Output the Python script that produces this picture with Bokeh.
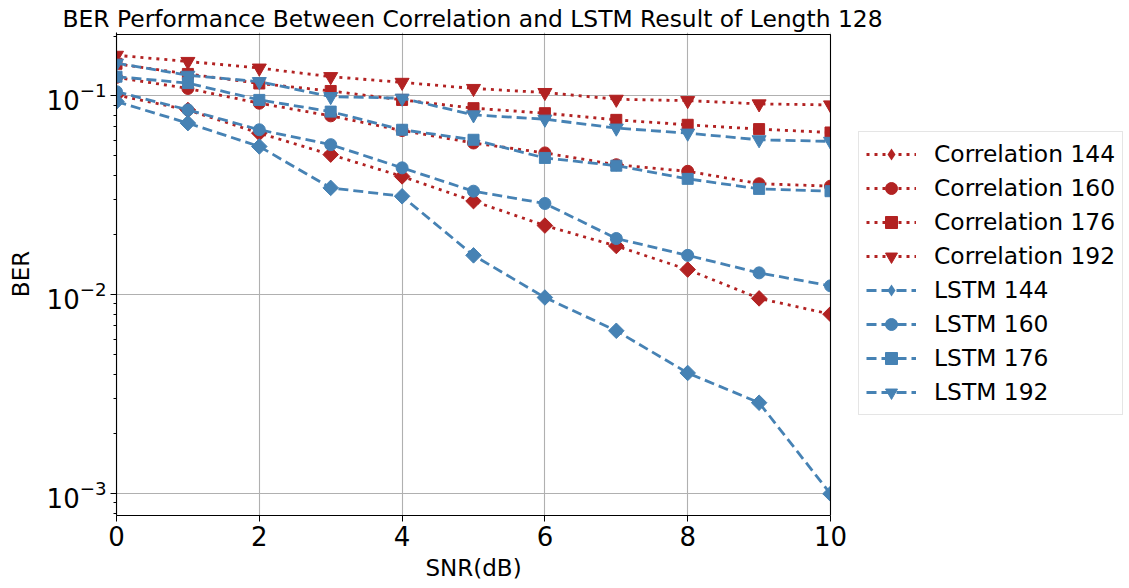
import numpy as np
from bokeh.plotting import figure
from bokeh.models import Range1d, FixedTicker, Legend, LegendItem, BoxAnnotation, Title
from bokeh.embed import file_html
from bokeh.resources import INLINE

snr = [0, 1, 2, 3, 4, 5, 6, 7, 8, 9, 10]
corr_144 = [0.101, 0.085, 0.065, 0.0507, 0.0394, 0.0296, 0.0223, 0.0176, 0.0134, 0.0096, 0.0080]
corr_160 = [0.124, 0.109, 0.0919, 0.0794, 0.0670, 0.0580, 0.0517, 0.0451, 0.0418, 0.0362, 0.0352]
corr_176 = [0.145, 0.129, 0.1155, 0.1059, 0.0955, 0.0868, 0.0819, 0.0758, 0.0716, 0.0681, 0.0655]
corr_192 = [0.160, 0.149, 0.138, 0.125, 0.117, 0.109, 0.104, 0.0962, 0.0947, 0.0912, 0.0901]
lstm_144 = [0.0937, 0.073, 0.0557, 0.0345, 0.0313, 0.0158, 0.0097, 0.0066, 0.00405, 0.00287, 0.00100]
lstm_160 = [0.105, 0.0851, 0.0676, 0.0569, 0.0435, 0.0332, 0.0288, 0.0192, 0.0158, 0.0129, 0.0111]
lstm_176 = [0.125, 0.116, 0.0955, 0.0834, 0.0676, 0.0602, 0.0488, 0.0446, 0.0383, 0.0341, 0.0332]
lstm_192 = [0.146, 0.127, 0.118, 0.0992, 0.0974, 0.0803, 0.0764, 0.0689, 0.0650, 0.0602, 0.0591]

labels = ["Correlation 144", "Correlation 160", "Correlation 176", "Correlation 192",
          "LSTM 144", "LSTM 160", "LSTM 176", "LSTM 192"]
series = [corr_144, corr_160, corr_176, corr_192, lstm_144, lstm_160, lstm_176, lstm_192]
x_ticks = [0, 2, 4, 6, 8, 10]

RED = "#b22222"
BLUE = "#4682b4"
FONT = "DejaVu Sans"

X0, X1 = 0, 10
Y0, Y1 = 7.78e-4, 0.2036
AX_W = 714             # pixel width of the axes box
AX_H = 481             # pixel height of the axes box
FRAME_W = 1129 - 116   # frame extends under the legend area
EXTRA_TOP = 2          # px of frame above the axes box so the top spine shows
x_end = X0 + (X1 - X0) * FRAME_W / AX_W
L = np.log10(Y1) - np.log10(Y0)
y_end = 10 ** (np.log10(Y1) + EXTRA_TOP * L / AX_H)

p = figure(width=1129, height=588, y_axis_type="log",
           x_range=Range1d(X0, x_end), y_range=Range1d(Y0, y_end),
           output_backend="svg", toolbar_location=None,
           min_border_left=116, min_border_right=0, min_border_top=34 - EXTRA_TOP,
           min_border_bottom=73)

p.title.text = "BER Performance Between Correlation and LSTM Result of Length 128"
p.title.align = "left"
p.title.offset = -54
p.title.text_font = FONT
p.title.text_font_size = "23.4px"
p.title.text_font_style = "normal"
p.title.text_color = "black"
p.title.standoff = 0

p.background_fill_color = "white"
p.border_fill_color = "white"
p.outline_line_color = None

p.xaxis.ticker = FixedTicker(ticks=x_ticks)
p.xgrid.ticker = FixedTicker(ticks=x_ticks)
p.xaxis.bounds = (X0, X1)
for ax in [p.xaxis[0], p.yaxis[0]]:
    ax.major_label_text_font = FONT
    ax.major_label_text_font_size = "26px"
    ax.major_label_text_color = "black"
    ax.axis_label_text_font = FONT
    ax.axis_label_text_font_size = "23px"
    ax.axis_label_text_font_style = "normal"
    ax.axis_label_text_color = "black"
    ax.axis_line_color = "black"
    ax.axis_line_width = 1.1
    ax.major_tick_line_color = "black"
    ax.minor_tick_line_color = "black"
    ax.major_tick_out = 6
    ax.major_tick_in = 0
    ax.minor_tick_out = 3
    ax.minor_tick_in = 0
p.xaxis.minor_tick_line_color = None
p.yaxis.axis_label = "BER"
p.yaxis.axis_label_standoff = 10
p.xaxis.major_label_standoff = 4
p.yaxis.major_label_standoff = 4

xlabel = Title(text="SNR(dB)", align="left", offset=309, text_font=FONT,
               text_font_size="23px", text_font_style="normal", text_color="black",
               standoff=8)
p.add_layout(xlabel, "below")

for g in [p.xgrid[0], p.ygrid[0]]:
    g.grid_line_color = "#b0b0b0"
    g.grid_line_width = 1.1

# clip everything right of the axes box (grid lines, half markers)
p.add_layout(BoxAnnotation(left=X1, fill_color="white", fill_alpha=1,
                           line_color=None, level="annotation"))
# axes box (top and right spines)
p.add_layout(BoxAnnotation(left=X0, right=X1, bottom=Y0, top=Y1,
                           fill_color=None, fill_alpha=0,
                           line_color="black", line_alpha=1, line_width=1.1,
                           level="annotation"))

markers = [("square", 45), ("circle", 0), ("square", 0), ("inverted_triangle", 0)]
sizes = [11, 12, 11, 14]

items = []
for i, (lab, vals) in enumerate(zip(labels, series)):
    color = RED if i < 4 else BLUE
    dash = "3 5" if i < 4 else "10 5"
    mk, ang = markers[i % 4]
    ln = p.line(snr, vals, line_color=color, line_width=2.8, line_dash=dash)
    rends = [ln]
    if i % 4 == 0:
        dm = p.scatter(snr, vals, marker="diamond", size=14,
                       fill_color=color, line_color=color, line_width=0)
        rends.append(dm)
    sc = p.scatter(snr, vals, marker=mk, angle=np.deg2rad(ang), size=sizes[i % 4],
                   fill_color=color, line_color=color, line_width=1)
    if i % 4 != 0:
        rends.append(sc)
    items.append(LegendItem(label=lab, renderers=rends))

legend = Legend(items=items, location=(742, 100))
legend.label_text_font = FONT
legend.label_text_font_size = "23.4px"
legend.label_text_color = "black"
legend.glyph_width = 50
legend.glyph_height = 30
legend.label_height = 30
legend.spacing = 4
legend.padding = 7
legend.margin = 0
legend.label_standoff = 18
legend.border_line_color = "#cccccc"
legend.border_line_width = 1
legend.background_fill_color = "white"
legend.background_fill_alpha = 1
p.add_layout(legend, "center")

open("out.html", "w").write(file_html(p, INLINE))
